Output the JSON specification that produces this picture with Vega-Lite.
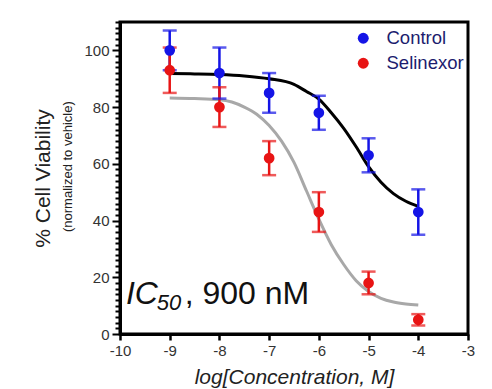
{
  "$schema": "https://vega.github.io/schema/vega-lite/v6.json",
  "width": 348,
  "height": 312,
  "autosize": "none",
  "padding": {"left": 120, "top": 22, "right": 24, "bottom": 55},
  "background": "white",
  "config": {
    "font": "Liberation Sans",
    "view": {"stroke": "black", "strokeWidth": 3}
  },
  "datasets": {
    "pts": [
      {"series": "Control", "logc": -9, "mean": 100, "lo": 93, "hi": 107},
      {"series": "Control", "logc": -8, "mean": 92, "lo": 83, "hi": 101},
      {"series": "Control", "logc": -7, "mean": 85, "lo": 78, "hi": 92},
      {"series": "Control", "logc": -6, "mean": 78, "lo": 72, "hi": 84},
      {"series": "Control", "logc": -5, "mean": 63, "lo": 57, "hi": 69},
      {"series": "Control", "logc": -4, "mean": 43, "lo": 35, "hi": 51},
      {"series": "Selinexor", "logc": -9, "mean": 93, "lo": 85, "hi": 101},
      {"series": "Selinexor", "logc": -8, "mean": 80, "lo": 73, "hi": 87},
      {"series": "Selinexor", "logc": -7, "mean": 62, "lo": 56, "hi": 68},
      {"series": "Selinexor", "logc": -6, "mean": 43, "lo": 36, "hi": 50},
      {"series": "Selinexor", "logc": -5, "mean": 18, "lo": 14, "hi": 22},
      {"series": "Selinexor", "logc": -4, "mean": 5, "lo": 3, "hi": 7}
    ],
    "curves": [
      {"series": "Control", "logc": -9, "y": 91.8},
      {"series": "Control", "logc": -8.5, "y": 91.7},
      {"series": "Control", "logc": -8, "y": 91.5},
      {"series": "Control", "logc": -7.5, "y": 91},
      {"series": "Control", "logc": -7, "y": 90},
      {"series": "Control", "logc": -6.5, "y": 88},
      {"series": "Control", "logc": -6.25, "y": 85.5},
      {"series": "Control", "logc": -6, "y": 82.8},
      {"series": "Control", "logc": -5.75, "y": 78},
      {"series": "Control", "logc": -5.5, "y": 72.5},
      {"series": "Control", "logc": -5.25, "y": 66},
      {"series": "Control", "logc": -5, "y": 59},
      {"series": "Control", "logc": -4.75, "y": 53.5},
      {"series": "Control", "logc": -4.5, "y": 49.5},
      {"series": "Control", "logc": -4.25, "y": 46.8},
      {"series": "Control", "logc": -4, "y": 45},
      {"series": "Selinexor", "logc": -9, "y": 83.2},
      {"series": "Selinexor", "logc": -8.5, "y": 83},
      {"series": "Selinexor", "logc": -8, "y": 82.6},
      {"series": "Selinexor", "logc": -7.75, "y": 81.8},
      {"series": "Selinexor", "logc": -7.5, "y": 80},
      {"series": "Selinexor", "logc": -7.25, "y": 77.5},
      {"series": "Selinexor", "logc": -7, "y": 73.5},
      {"series": "Selinexor", "logc": -6.75, "y": 68},
      {"series": "Selinexor", "logc": -6.5, "y": 60.5},
      {"series": "Selinexor", "logc": -6.25, "y": 50.5},
      {"series": "Selinexor", "logc": -6, "y": 40.5},
      {"series": "Selinexor", "logc": -5.75, "y": 31.5},
      {"series": "Selinexor", "logc": -5.5, "y": 24.5},
      {"series": "Selinexor", "logc": -5.25, "y": 18.8},
      {"series": "Selinexor", "logc": -5, "y": 15},
      {"series": "Selinexor", "logc": -4.75, "y": 12.6},
      {"series": "Selinexor", "logc": -4.5, "y": 11.3},
      {"series": "Selinexor", "logc": -4.25, "y": 10.6},
      {"series": "Selinexor", "logc": -4, "y": 10.2}
    ],
    "anno": [{"a": 1}]
  },
  "layer": [
    {
      "data": {"name": "curves"},
      "mark": {"type": "line", "strokeWidth": 3, "interpolate": "monotone"},
      "encoding": {
        "x": {
          "field": "logc",
          "type": "quantitative",
          "scale": {"domain": [-10, -3], "nice": false, "zero": false},
          "axis": {
            "values": [-10, -9, -8, -7, -6, -5, -4, -3],
            "labelExpr": "datum.value + ''",
            "grid": false,
            "domainColor": "black",
            "domainWidth": 3,
            "tickColor": "black",
            "tickWidth": 2.5,
            "tickSize": 6,
            "labelFontSize": 15,
            "labelColor": "#333333",
            "labelPadding": 3,
            "labelFlush": false,
            "title": "log[Concentration, M]",
            "titleFontSize": 21,
            "titleFontStyle": "italic",
            "titleFontWeight": "normal",
            "titleColor": "#222222",
            "titlePadding": 8
          }
        },
        "y": {
          "field": "y",
          "type": "quantitative",
          "scale": {"domain": [0, 110], "nice": false},
          "axis": {
            "orient": "left",
            "values": [0, 2, 4, 6, 8, 10, 12, 14, 16, 18, 20, 22, 24, 26, 28, 30, 32, 34, 36, 38, 40, 42, 44, 46, 48, 50, 52, 54, 56, 58, 60, 62, 64, 66, 68, 70, 72, 74, 76, 78, 80, 82, 84, 86, 88, 90, 92, 94, 96, 98, 100, 102, 104, 106, 108, 110],
            "labelExpr": "datum.value % 20 === 0 ? datum.label : ''",
            "labelOverlap": false,
            "labelFlush": false,
            "grid": false,
            "domainColor": "black",
            "domainWidth": 3,
            "tickColor": "black",
            "tickWidth": 2,
            "tickSize": {"condition": {"test": "datum.value % 20 === 0", "value": 8}, "value": 5},
            "labelFontSize": 15,
            "labelColor": "#333333",
            "labelPadding": 3,
            "title": "% Cell Viability",
            "titleFontSize": 21,
            "titleFontWeight": "normal",
            "titleColor": "#222222",
            "titlePadding": 30
          }
        },
        "stroke": {
          "field": "series",
          "type": "nominal",
          "scale": {"domain": ["Control", "Selinexor"], "range": ["#000000", "#a8a8a8"]},
          "legend": null
        },
        "detail": {"field": "series"}
      }
    },
    {
      "data": {"name": "pts"},
      "mark": {"type": "rule", "strokeWidth": 2.5},
      "encoding": {
        "x": {"field": "logc", "type": "quantitative"},
        "y": {"field": "lo", "type": "quantitative", "axis": null},
        "y2": {"field": "hi"},
        "color": {"field": "series", "type": "nominal", "legend": null}
      }
    },
    {
      "data": {"name": "pts"},
      "mark": {"type": "tick", "orient": "horizontal", "size": 14, "thickness": 2.5},
      "encoding": {
        "x": {"field": "logc", "type": "quantitative"},
        "y": {"field": "lo", "type": "quantitative", "axis": null},
        "color": {"field": "series", "type": "nominal", "legend": null}
      }
    },
    {
      "data": {"name": "pts"},
      "mark": {"type": "tick", "orient": "horizontal", "size": 14, "thickness": 2.5},
      "encoding": {
        "x": {"field": "logc", "type": "quantitative"},
        "y": {"field": "hi", "type": "quantitative", "axis": null},
        "color": {"field": "series", "type": "nominal", "legend": null}
      }
    },
    {
      "data": {"name": "pts"},
      "mark": {"type": "point", "filled": true, "size": 115, "opacity": 1, "shape": "circle"},
      "encoding": {
        "x": {"field": "logc", "type": "quantitative"},
        "y": {"field": "mean", "type": "quantitative", "axis": null},
        "color": {
          "field": "series",
          "type": "nominal",
          "scale": {"domain": ["Control", "Selinexor"], "range": ["#1414e6", "#e81414"]},
          "legend": {
            "orient": "none",
            "legendX": 234,
            "legendY": 7,
            "title": null,
            "padding": 0,
            "labelFontSize": 18.5,
            "labelColor": "#1c1c6e",
            "labelOffset": 14,
            "rowPadding": 6,
            "symbolType": "circle",
            "symbolSize": 120,
            "symbolStrokeWidth": 0,
            "symbolOpacity": 1
          }
        }
      }
    },
    {
      "data": {"name": "anno"},
      "mark": {"type": "text", "text": "IC", "fontSize": 32, "fontStyle": "italic", "align": "left", "baseline": "alphabetic", "color": "#111111"},
      "encoding": {
        "x": {"datum": -9.88, "type": "quantitative"},
        "y": {"datum": 10.6, "type": "quantitative", "axis": null}
      }
    },
    {
      "data": {"name": "anno"},
      "mark": {"type": "text", "text": "50", "fontSize": 22, "fontStyle": "italic", "align": "left", "baseline": "alphabetic", "color": "#111111"},
      "encoding": {
        "x": {"datum": -9.26, "type": "quantitative"},
        "y": {"datum": 8.4, "type": "quantitative", "axis": null}
      }
    },
    {
      "data": {"name": "anno"},
      "mark": {"type": "text", "text": ", 900 nM", "fontSize": 32, "align": "left", "baseline": "alphabetic", "color": "#111111"},
      "encoding": {
        "x": {"datum": -8.70, "type": "quantitative"},
        "y": {"datum": 10.6, "type": "quantitative", "axis": null}
      }
    },
    {
      "data": {"name": "anno"},
      "mark": {"type": "text", "text": "(normalized to vehicle)", "fontSize": 13, "angle": 270, "align": "center", "baseline": "middle", "color": "#222222"},
      "encoding": {
        "x": {"datum": -11.05, "type": "quantitative"},
        "y": {"datum": 59, "type": "quantitative", "axis": null}
      }
    }
  ],
  "resolve": {"axis": {"y": "independent"}, "legend": {"color": "independent"}}
}
